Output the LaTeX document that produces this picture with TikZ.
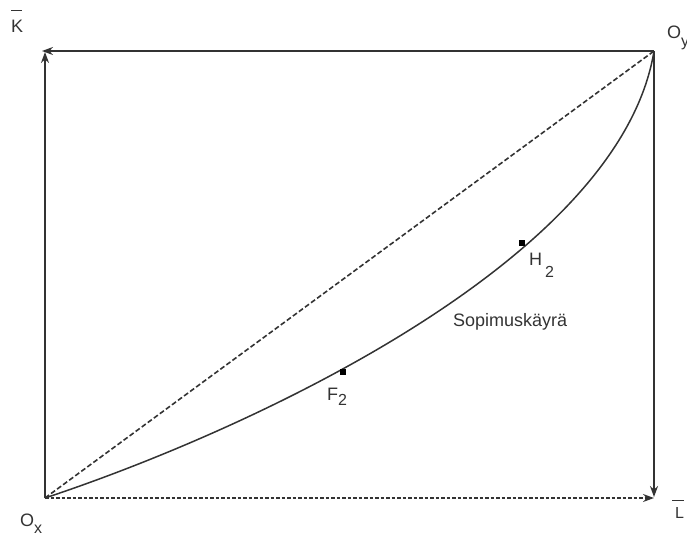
\documentclass[tikz,border=0pt]{standalone}
\usepackage{fontspec}
\setmainfont{Liberation Sans}
\usetikzlibrary{arrows.meta}
\newcommand{\barred}[2]{\makebox[0pt][l]{\raisebox{#2}{\rule{11pt}{0.9pt}}}#1}
\begin{document}
\begin{tikzpicture}[x=1pt,y=-1pt,
  axis/.style={line width=1.7pt,draw=black!80,-{Stealth[length=11pt,width=8pt]}},
  dline/.style={line width=1.6pt,draw=black!80,dash pattern=on 5pt off 2.5pt},
  lbl/.style={font=\fontsize{18}{20}\selectfont,text=black!80,inner sep=0pt,anchor=base west},
  pt/.style={fill=black,minimum size=5.5pt,inner sep=0pt}]
\useasboundingbox (0,0) rectangle (687,533);
\coordinate (Ox) at (45,498);
\coordinate (Oy) at (654,51);
\coordinate (Ktop) at (45,52);
\coordinate (Lend) at (654,498);
\coordinate (Rbot) at (654,497);
\coordinate (Tleft) at (42,51);
\draw[axis] (Ox) -- (Ktop);
\draw[axis] (Oy) -- (Tleft);
\draw[axis] (Oy) -- (Rbot);
\draw[dline,line width=1.4pt,dash pattern=on 3.5pt off 2pt,-{Stealth[length=11pt,width=8pt]}] (Ox) -- (Lend);
\draw[dline] (Ox) -- (Oy);
\draw[line width=1.5pt,black!80] (Ox) .. controls (250,430) and (620,260) .. (Oy);
\node[pt] (F) at (343,372) {};
\node[pt] (H) at (522,243) {};
\node[lbl] (Fl) at (327,400) {F\raisebox{-5pt}{\fontsize{16}{18}\selectfont 2}};
\node[lbl] (Hl) at (529,265) {H\hspace{3pt}\raisebox{-12pt}{\fontsize{16}{18}\selectfont 2}};
\node[lbl] (S) at (453,326) {Sopimuskäyrä};
\node[lbl] (K) at (11,32) {\barred{K}{21pt}};
\node[lbl,font=\fontsize{16}{18}\selectfont] (L) at (675,518) {\makebox[0pt][l]{\hspace{-3pt}\raisebox{17pt}{\rule{12pt}{0.9pt}}}L};
\node[lbl] (Oxl) at (20,526) {O\raisebox{-7pt}{\fontsize{16}{18}\selectfont x}};
\node[lbl] (Oyl) at (667,38) {O\raisebox{-8pt}{\fontsize{16}{18}\selectfont y}};
\end{tikzpicture}
\end{document}
